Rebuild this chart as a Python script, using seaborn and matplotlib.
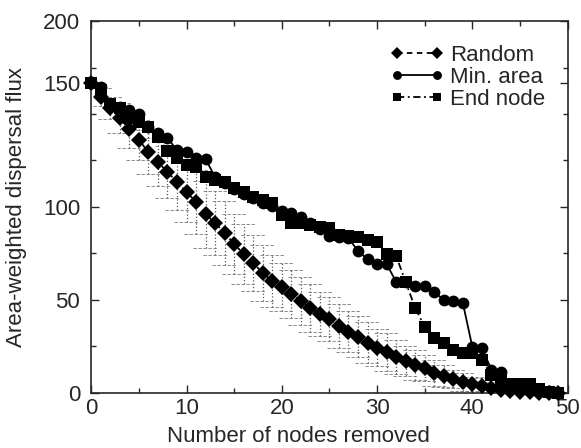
import numpy as np
import pandas as pd
import seaborn as sns
import matplotlib
import matplotlib.pyplot as plt
from matplotlib.ticker import FixedLocator, FixedFormatter, MultipleLocator

matplotlib.use("agg")

# number of nodes removed
removed = list(range(50))

random_flux = [166.7, 159.1, 153.2, 147.8, 141.9, 136.0, 129.6, 124.2, 118.8, 113.4,
               108.1, 102.7, 96.2, 91.4, 86.0, 80.1, 74.7, 69.9, 64.5, 60.2,
               57.0, 53.2, 49.5, 45.7, 42.5, 39.8, 36.0, 32.8, 30.1, 26.9,
               24.2, 22.0, 19.4, 17.2, 15.1, 13.4, 10.8, 9.1, 7.5, 5.9,
               4.8, 3.8, 2.7, 1.6, 1.1, 0.6, 0.4, 0.2, 0.1, 0.0]
random_err = [0, 5, 6, 8, 10, 11, 12, 13, 14, 15,
              16, 17, 18, 17, 17, 16, 16, 15, 15, 14,
              13, 13, 13, 13, 12, 12, 12, 11, 11, 11,
              10, 10, 9, 8, 8, 7, 7, 6, 5, 5,
              4, 4, 3, 2, 2, 1, 1, 0, 0, 0]

min_area_flux = [166.7, 164.5, 154.8, 153.8, 152.2, 150.0, 143.0, 139.8, 137.1, 130.6,
                 129.6, 126.3, 125.8, 116.1, 112.9, 109.7, 107.0, 104.8, 102.2, 100.5,
                 97.8, 96.8, 94.6, 91.4, 88.2, 84.4, 83.9, 83.3, 76.3, 72.0,
                 69.4, 69.4, 59.7, 59.7, 57.5, 57.5, 54.3, 50.0, 49.5, 48.4,
                 24.7, 24.2, 12.4, 11.3, 4.0, 2.5, 1.8, 1.2, 0.8, 0.0]

end_node_flux = [166.7, 163.0, 155.4, 153.2, 147.8, 145.7, 143.0, 137.6, 130.1, 126.3,
                 122.6, 121.5, 116.1, 114.5, 113.4, 110.2, 108.1, 105.4, 103.8, 102.2,
                 95.7, 91.4, 91.4, 90.3, 89.2, 88.7, 84.9, 84.4, 83.9, 82.3,
                 81.2, 74.7, 73.7, 59.7, 45.7, 35.5, 29.6, 26.9, 23.1, 21.5,
                 21.5, 17.7, 9.7, 7.0, 4.8, 4.8, 4.8, 2.2, 0.5, 0.0]

methods = ["Random", "Min. area", "End node"]

# y tick positions as drawn in the figure and their printed labels
ytick_pos = [0, 50, 100, 166.7, 200]
ytick_labels = ["0", "50", "100", "150", "200"]

df = pd.DataFrame({
    "removed": removed * 3,
    "flux": random_flux + min_area_flux + end_node_flux,
    "method": [m for m in methods for _ in removed],
})

sns.set_style("ticks")
plt.rcParams["font.family"] = ["Liberation Sans", "DejaVu Sans"]

fig, ax = plt.subplots(figsize=(5.81, 4.48), dpi=100)
fig.subplots_adjust(left=0.157, right=0.977, bottom=0.123, top=0.953)

# error bars of the random removal: dotted stems, dashed wide caps
x = np.array(removed, dtype=float)
lo = np.array(random_flux) - np.array(random_err)
hi = np.array(random_flux) + np.array(random_err)
has = np.array(random_err) > 0
ax.vlines(x[has], lo[has], hi[has], colors="#555555", linestyles=":",
          linewidth=0.9, zorder=1)
ax.hlines(np.r_[lo[has], hi[has]], np.r_[x[has], x[has]] - 1.3,
          np.r_[x[has], x[has]] + 1.3, colors="#777777",
          linestyles=(0, (4, 2)), linewidth=0.6, zorder=1)

sns.lineplot(
    data=df, x="removed", y="flux", style="method", style_order=methods,
    markers={"Random": "D", "Min. area": "o", "End node": "s"},
    dashes={"Random": (3, 2.5), "Min. area": "", "End node": (4, 2, 1, 2)},
    color="black", linewidth=1.3, markersize=8.5, markeredgewidth=0,
    clip_on=False, ax=ax, zorder=3,
)

ax.set_xlim(0, 50)
ax.set_ylim(0, 200)
ax.xaxis.set_major_locator(MultipleLocator(10))
ax.xaxis.set_minor_locator(MultipleLocator(5))
ax.yaxis.set_major_locator(FixedLocator(ytick_pos))
ax.yaxis.set_major_formatter(FixedFormatter(ytick_labels))
ax.yaxis.set_minor_locator(FixedLocator([25, 75, 125, 150, 175]))
ax.tick_params(which="both", direction="in", top=True, right=True,
               labelsize=16, width=1)
ax.tick_params(axis="y", pad=8)
ax.tick_params(axis="x", pad=4)
ax.tick_params(which="major", length=6)
ax.tick_params(which="minor", length=3.5)
for s in ax.spines.values():
    s.set_linewidth(1.2)

ax.set_xlabel("Number of nodes removed", fontsize=16)
ax.set_ylabel("Area-weighted dispersal flux", fontsize=16)
ax.xaxis.set_label_coords(0.435, -0.09)
ax.yaxis.set_label_coords(-0.135, 0.5)

handles, labels = ax.get_legend_handles_labels()
ax.legend(handles, labels, loc="upper right", frameon=False, numpoints=2,
          fontsize=16, handlelength=2.4, handletextpad=0.3, labelspacing=0.05,
          markerscale=0.75, bbox_to_anchor=(0.995, 0.99))

fig.savefig("out.png", dpi=100)
